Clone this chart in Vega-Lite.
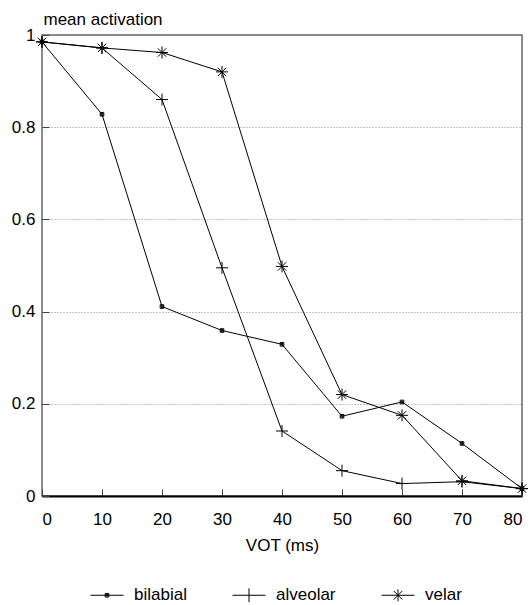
{
  "$schema": "https://vega.github.io/schema/vega-lite/v6.json",
  "autosize": {"type": "none"},
  "width": 480,
  "height": 461,
  "padding": {"left": 42, "top": 35, "right": 9, "bottom": 109},
  "background": "white",
  "config": {
    "font": "Liberation Sans",
    "view": {"stroke": "#666666", "strokeWidth": 1.5},
    "axis": {
      "labelFont": "Liberation Sans",
      "titleFont": "Liberation Sans",
      "labelFontSize": 17,
      "titleFontSize": 17,
      "titleFontWeight": "normal",
      "labelColor": "black",
      "titleColor": "black",
      "tickColor": "#444444",
      "tickSize": -7
    },
    "legend": {
      "labelFont": "Liberation Sans",
      "labelFontSize": 17,
      "labelColor": "black"
    }
  },
  "data": {
    "values": [
      {"vot": 0, "series": "bilabial", "act": 0.985},
      {"vot": 10, "series": "bilabial", "act": 0.828},
      {"vot": 20, "series": "bilabial", "act": 0.411},
      {"vot": 30, "series": "bilabial", "act": 0.359},
      {"vot": 40, "series": "bilabial", "act": 0.329},
      {"vot": 50, "series": "bilabial", "act": 0.173},
      {"vot": 60, "series": "bilabial", "act": 0.204},
      {"vot": 70, "series": "bilabial", "act": 0.114},
      {"vot": 80, "series": "bilabial", "act": 0.016},
      {"vot": 0, "series": "alveolar", "act": 0.985},
      {"vot": 10, "series": "alveolar", "act": 0.972},
      {"vot": 20, "series": "alveolar", "act": 0.86},
      {"vot": 30, "series": "alveolar", "act": 0.495},
      {"vot": 40, "series": "alveolar", "act": 0.141},
      {"vot": 50, "series": "alveolar", "act": 0.055},
      {"vot": 60, "series": "alveolar", "act": 0.027},
      {"vot": 70, "series": "alveolar", "act": 0.031},
      {"vot": 80, "series": "alveolar", "act": 0.016},
      {"vot": 0, "series": "velar", "act": 0.985},
      {"vot": 10, "series": "velar", "act": 0.972},
      {"vot": 20, "series": "velar", "act": 0.962},
      {"vot": 30, "series": "velar", "act": 0.92},
      {"vot": 40, "series": "velar", "act": 0.498},
      {"vot": 50, "series": "velar", "act": 0.22},
      {"vot": 60, "series": "velar", "act": 0.175},
      {"vot": 70, "series": "velar", "act": 0.033},
      {"vot": 80, "series": "velar", "act": 0.016}
    ]
  },
  "encoding": {
    "x": {
      "field": "vot",
      "type": "quantitative",
      "scale": {"domain": [0, 80], "nice": false, "zero": false},
      "axis": {
        "title": "VOT (ms)",
        "values": [0, 10, 20, 30, 40, 50, 60, 70, 80],
        "grid": false,
        "domainColor": "black",
        "domainWidth": 2,
        "labelPadding": 22,
        "titleY": 54,
        "titleBaseline": "alphabetic"
      }
    },
    "y": {
      "field": "act",
      "type": "quantitative",
      "scale": {"domain": [0, 1], "nice": false},
      "axis": {
        "title": "mean activation",
        "values": [0, 0.2, 0.4, 0.6, 0.8, 1],
        "format": "~g",
        "grid": true,
        "gridColor": "#888888",
        "gridDash": [1, 2],
        "gridWidth": 1,
        "domain": false,
        "labelPadding": 14,
        "titleAngle": 0,
        "titleAlign": "left",
        "titleBaseline": "alphabetic",
        "titleX": 1,
        "titleY": -11
      }
    }
  },
  "resolve": {"scale": {"shape": "independent"}, "legend": {"shape": "independent"}},
  "layer": [
    {
      "mark": {"type": "line", "color": "black", "strokeWidth": 1},
      "encoding": {"detail": {"field": "series"}}
    },
    {
      "mark": {"type": "point", "filled": false, "stroke": "black", "strokeWidth": 1, "opacity": 1, "size": 144},
      "encoding": {
        "shape": {
          "field": "series",
          "type": "nominal",
          "scale": {
            "domain": ["bilabial", "alveolar", "velar"],
            "range": [
              "M-0.3,-0.3H0.3V0.3H-0.3ZM-0.15,-0.15H0.15V0.15H-0.15Z",
              "M-1,0H1M0,-1V1",
              "M-1,0H1M0,-1V1M-0.7,-0.7L0.7,0.7M-0.7,0.7L0.7,-0.7"
            ]
          },
          "legend": null
        }
      }
    },
    {
      "mark": {"type": "point", "filled": false, "stroke": "black", "strokeWidth": 1, "opacity": 0, "size": 144},
      "encoding": {
        "shape": {
          "field": "series",
          "type": "nominal",
          "scale": {
            "domain": ["bilabial", "alveolar", "velar"],
            "range": [
              "M-1,-1L-1,-1M1,1L1,1M-1,0H1M-0.11,-0.11H0.11V0.11H-0.11ZM-0.05,-0.05H0.05V0.05H-0.05Z",
              "M-1,-1L-1,-1M1,1L1,1M-1,0H1M0,-0.42V0.42",
              "M-1,-1L-1,-1M1,1L1,1M-1,0H1M0,-0.36V0.36M-0.26,-0.26L0.26,0.26M-0.26,0.26L0.26,-0.26"
            ]
          },
          "legend": {
            "title": null,
            "orient": "none",
            "direction": "horizontal",
            "legendX": 48,
            "legendY": 543,
            "columnPadding": 43,
            "labelOffset": 10,
            "symbolSize": 1089,
            "symbolStrokeColor": "black",
            "symbolStrokeWidth": 1,
            "symbolOpacity": 1
          }
        }
      }
    }
  ]
}
